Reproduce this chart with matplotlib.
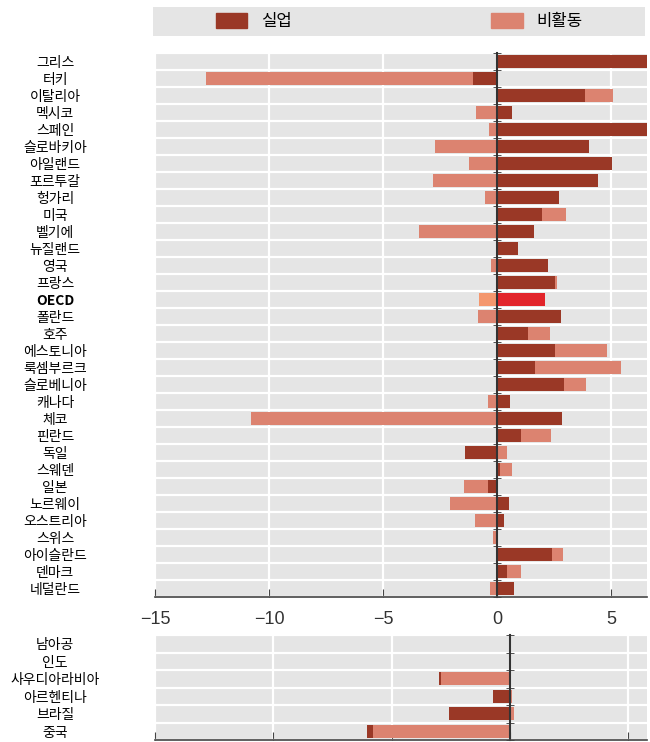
import matplotlib.pyplot as plt
import numpy as np
from matplotlib.patches import Patch

plt.rcParams['font.family'] = ['Noto Sans CJK KR', 'DejaVu Sans']

# OECD countries: change in unemployment (실업) and inactivity (비활동)
countries = ["그리스", "터키", "이탈리아", "멕시코", "스페인", "슬로바키아", "아일랜드",
             "포르투갈", "헝가리", "미국", "벨기에", "뉴질랜드", "영국", "프랑스", "OECD",
             "폴란드", "호주", "에스토니아", "룩셈부르크", "슬로베니아", "캐나다", "체코",
             "핀란드", "독일", "스웨덴", "일본", "노르웨이", "오스트리아", "스위스",
             "아이슬란드", "덴마크", "네덜란드"]
unemp = [6.8, -1.05, 3.86, 0.63, 6.8, 4.0, 5.02, 4.41, 2.72, 1.95, 1.59, 0.92, 2.21, 2.55,
         2.08, 2.78, 1.34, 2.55, 1.66, 2.93, 0.55, 2.82, 1.02, -1.43, 0.1, -0.39, 0.51,
         0.29, 0.05, 2.4, 0.41, 0.71]
inactive = [0.0, -11.7, 1.23, -0.95, -0.38, -2.74, -1.22, -2.83, -0.54, 1.05, -3.41, 0.0,
            -0.28, 0.07, -0.8, -0.83, 0.99, 2.26, 3.75, 0.96, -0.39, -10.8, 1.34, 0.44,
            0.55, -1.06, -2.07, -0.98, -0.19, 0.48, 0.61, -0.32]

# emerging economies
emerging = ["남아공", "인도", "사우디아라비아", "아르헨티나", "브라질", "중국"]
em_unemp = [0.0, 0.0, -0.1, -0.7, -2.57, -0.24]
em_inactive = [0.0, 0.0, -2.89, 0.11, 0.18, -5.78]

DARK = '#9a3826'
LIGHT = '#dc8370'
OECD_DARK = '#e2252b'
OECD_LIGHT = '#f4976e'
BG = '#e5e5e5'


def stack(ax, first, second, c1, c2):
    first = np.array(first)
    second = np.array(second)
    y = np.arange(len(first))
    same = np.sign(first) == np.sign(second)
    left2 = np.where(same, first, 0)
    ax.barh(y, first, height=0.72, color=c1, zorder=1)
    ax.barh(y, second, left=left2, height=0.72, color=c2, zorder=1)


def style(ax, labels, xlim, fs):
    n = len(labels)
    ax.set_facecolor(BG)
    ax.set_xlim(xlim)
    ax.set_ylim(n - 0.5, -0.5)
    ax.set_xticks([-15, -10, -5, 0, 5])
    ax.set_yticks(np.arange(n))
    ax.set_yticklabels(labels, fontsize=fs, color='#222')
    ax.set_yticks(np.arange(n + 1) - 0.5, minor=True)
    ax.set_axisbelow(True)
    ax.grid(which='minor', axis='y', color='white', lw=1.6)
    ax.grid(which='major', axis='x', color='white', lw=1.6)
    ax.spines['top'].set_visible(False)
    ax.spines['left'].set_visible(False)
    ax.spines['right'].set_position(('data', 0))
    ax.spines['right'].set_color('#333')
    ax.spines['right'].set_linewidth(1.5)
    ax.spines['bottom'].set_color('#444')
    ax.spines['bottom'].set_linewidth(1.2)
    ax.tick_params(axis='y', which='major', length=0, pad=72)
    ax.tick_params(axis='y', which='minor', left=False, right=True,
                   direction='inout', length=6, color='#333')
    ax.tick_params(axis='x', direction='in', length=6, color='#444')


fig = plt.figure(figsize=(6.5, 7.42), dpi=100)

# main OECD panel
ax = fig.add_axes([155/650, 1 - 597/742, 492/650, 544/742])
c1 = [OECD_DARK if c == "OECD" else DARK for c in countries]
c2 = [OECD_LIGHT if c == "OECD" else LIGHT for c in countries]
stack(ax, unemp, inactive, c1, c2)
style(ax, countries, (-14.95, 6.56), 8.5)
ax.tick_params(axis='x', labelsize=13, labelcolor='#333', pad=10)
for lbl in ax.get_xticklabels():
    lbl.set_fontfamily('Liberation Sans')

# emerging panel (inactivity stacked first)
ax2 = fig.add_axes([155/650, 1 - 740/742, 492/650, 105/742])
stack(ax2, em_inactive, em_unemp, LIGHT, DARK)
style(ax2, emerging, (-15.0, 5.8), 8)
ax2.tick_params(axis='x', labelbottom=False)

# centre the country names under each other
for a in (ax, ax2):
    for lbl in a.get_yticklabels():
        lbl.set_horizontalalignment('center')
        if lbl.get_text() == "OECD":
            lbl.set_fontweight('bold')

# legend strip
ax_leg = fig.add_axes([153/650, 1 - 36/742, 492/650, 29/742])
ax_leg.set_facecolor(BG)
ax_leg.set_xticks([])
ax_leg.set_yticks([])
for s in ax_leg.spines.values():
    s.set_visible(False)
handles = [Patch(color=DARK), Patch(color=LIGHT)]
ax_leg.legend(handles, ["실업", "비활동"], loc='center', ncol=2, frameon=False,
              fontsize=12, handlelength=1.9, handleheight=1.0,
              handletextpad=0.8, columnspacing=12)

fig.savefig("out.png", dpi=100)
